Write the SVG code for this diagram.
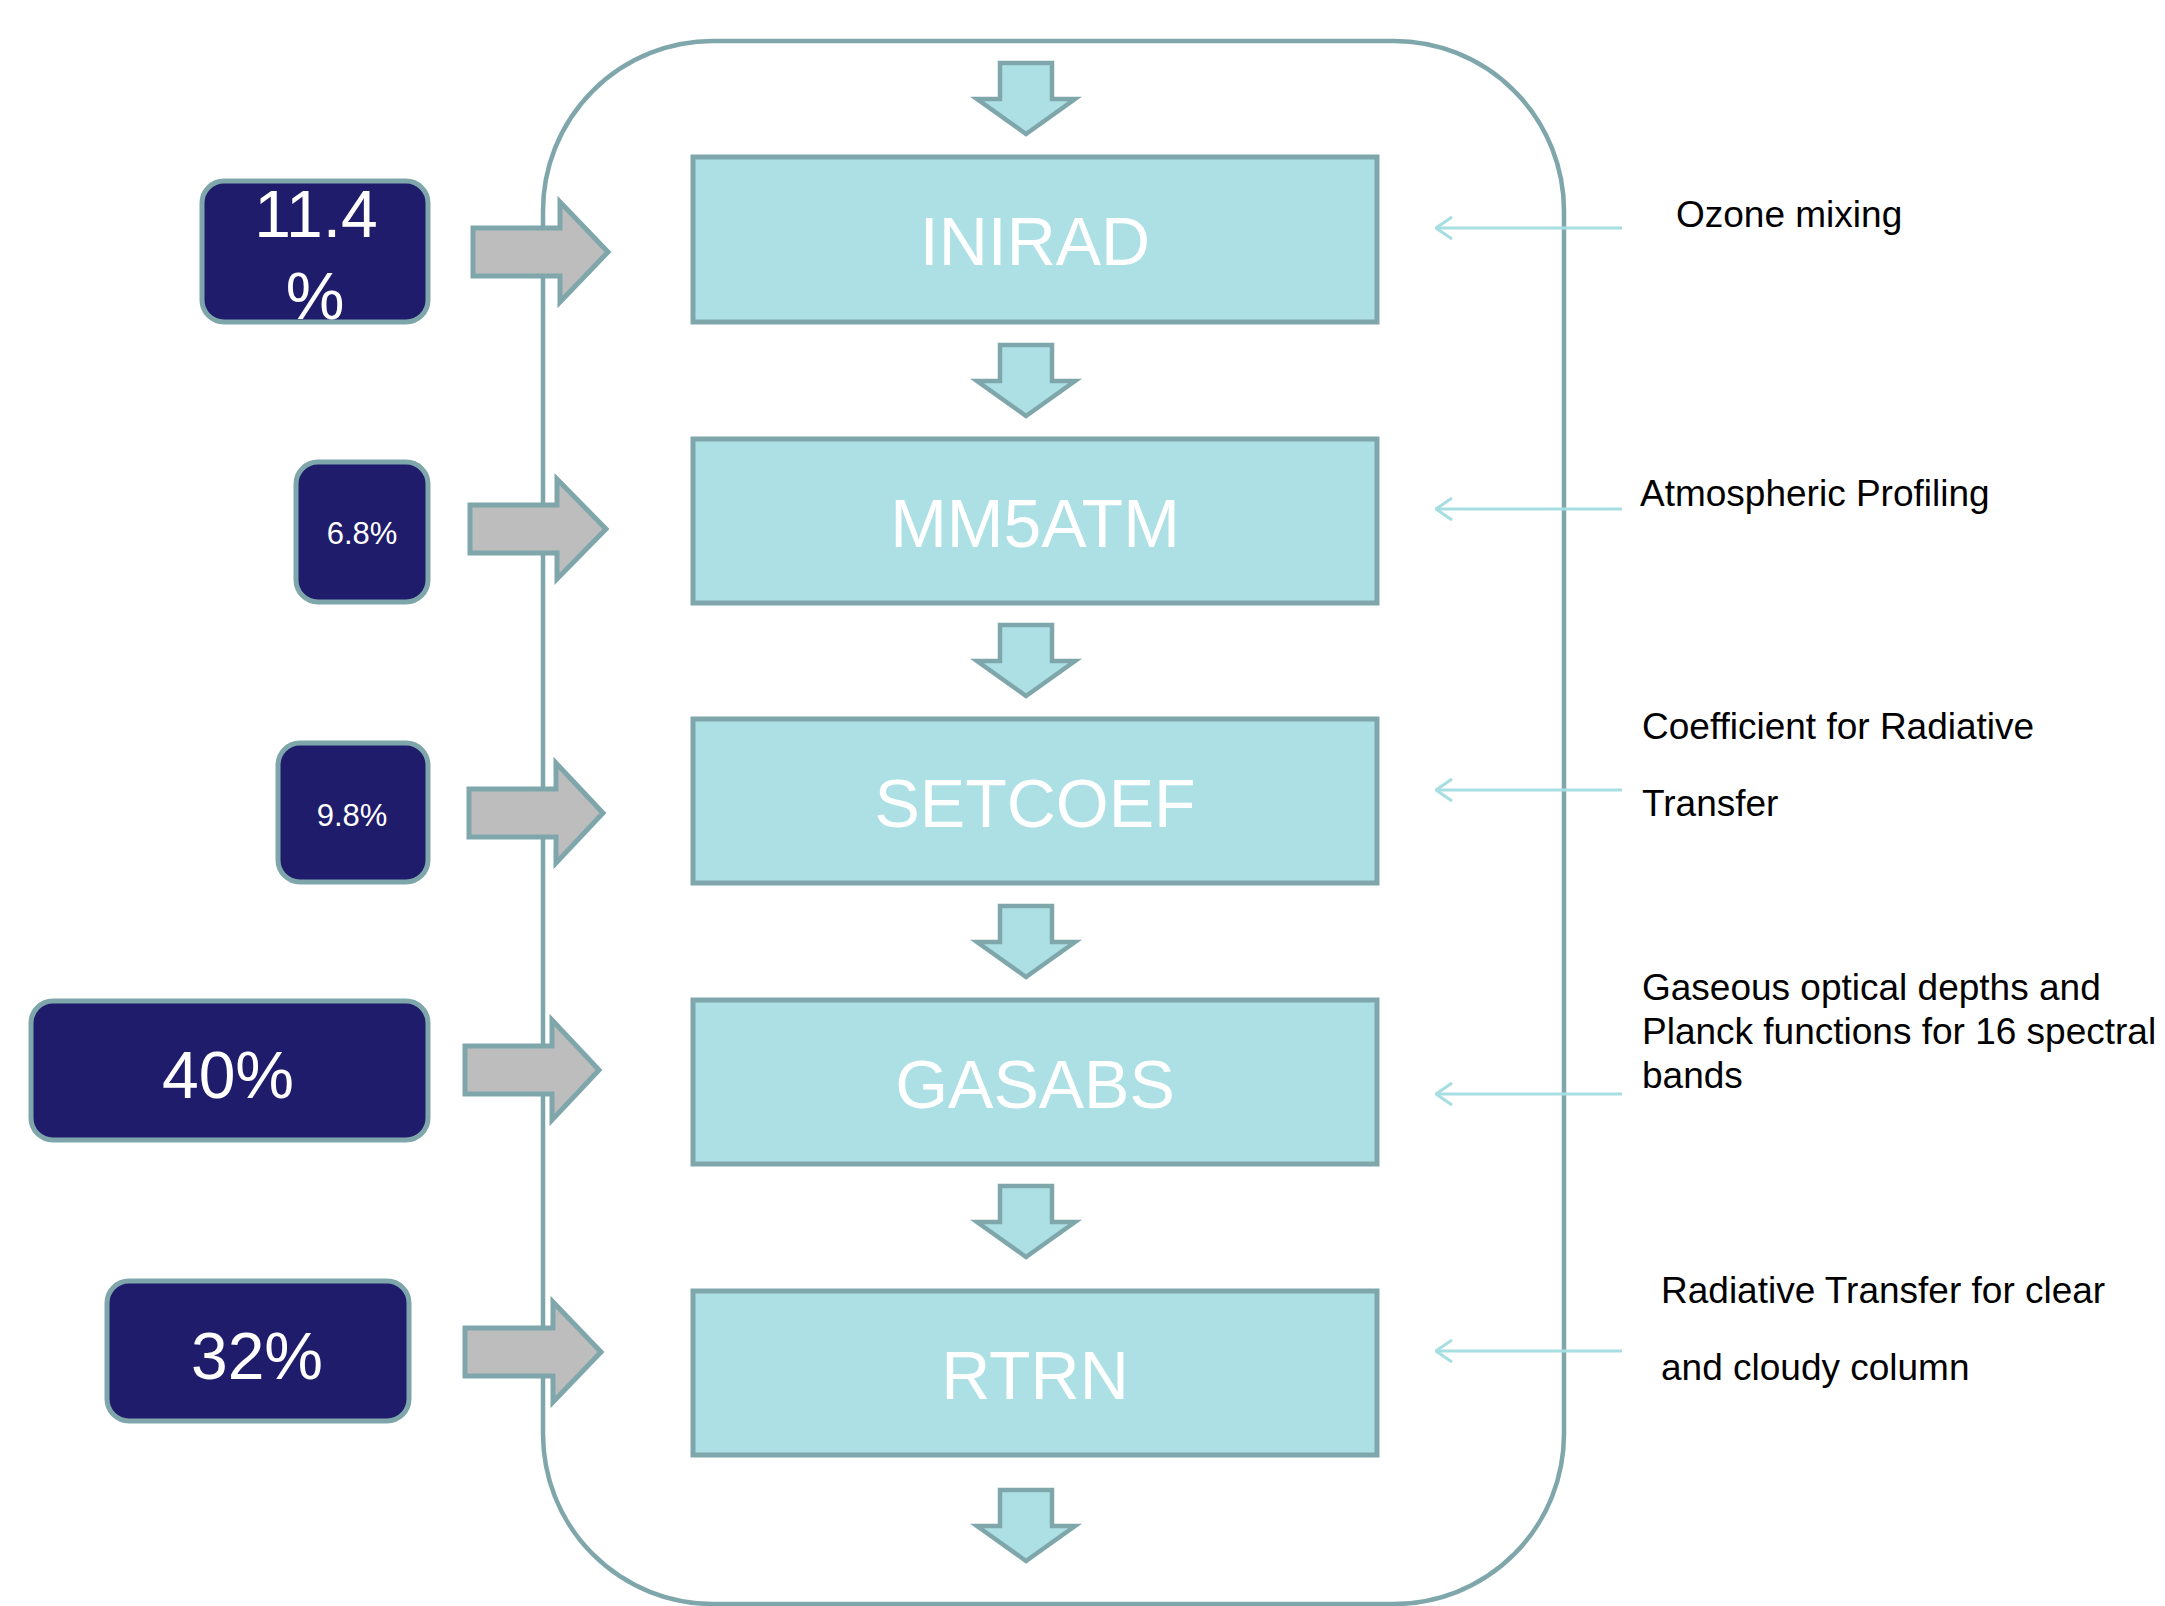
<svg xmlns="http://www.w3.org/2000/svg" width="2165" height="1606" viewBox="0 0 2165 1606">
  <style>
    .frame { fill: none; stroke: #7FA7AB; stroke-width: 4.5; }
    .proc { fill: #ACE0E4; stroke: #7FA7AB; stroke-width: 5; }
    .proc-label { fill: #FFFFFF; font-family: "Liberation Sans", Arial, sans-serif; font-size: 68px; text-anchor: middle; }
    .pct { fill: #1F1C6B; stroke: #7FA7AB; stroke-width: 5; }
    .pct-label { fill: #FFFFFF; font-family: "Liberation Sans", Arial, sans-serif; text-anchor: middle; }
    .big { font-size: 66px; }
    .small { font-size: 31px; }
    .flow { fill: #ACE0E4; stroke: #7FA7AB; stroke-width: 4.5; stroke-linejoin: miter; }
    .feed { fill: #BDBDBD; stroke: #7FA7AB; stroke-width: 5; stroke-linejoin: miter; }
    .note-line { fill: none; stroke: #A6DEE2; stroke-width: 3; }
    .note { fill: #000000; font-family: "Liberation Sans", Arial, sans-serif; font-size: 37px; }
  </style>
  <defs>
    <!-- open chevron; drawn along +x so orient="auto" turns it to face the line's end -->
    <marker id="open-head" viewBox="0 0 18 24" refX="17" refY="12" markerWidth="18" markerHeight="24" markerUnits="userSpaceOnUse" orient="auto">
      <path d="M1,1 L17,12 L1,23" fill="none" stroke="#A6DEE2" stroke-width="3"/>
    </marker>
  </defs>

  <rect width="2165" height="1606" fill="#FFFFFF"/>

  <!-- enclosing rounded frame -->
  <rect id="frame" class="frame" x="543" y="41" width="1021" height="1563" rx="170" ry="170"/>

  <!-- processing steps -->
  <g id="node-inirad">
    <rect class="proc" x="693" y="157" width="684" height="165"/>
    <text class="proc-label" x="1035" y="265">INIRAD</text>
  </g>
  <g id="node-mm5atm">
    <rect class="proc" x="693" y="439" width="684" height="164"/>
    <text class="proc-label" x="1035" y="547">MM5ATM</text>
  </g>
  <g id="node-setcoef">
    <rect class="proc" x="693" y="719" width="684" height="164"/>
    <text class="proc-label" x="1035" y="827">SETCOEF</text>
  </g>
  <g id="node-gasabs">
    <rect class="proc" x="693" y="1000" width="684" height="164"/>
    <text class="proc-label" x="1035" y="1108">GASABS</text>
  </g>
  <g id="node-rtrn">
    <rect class="proc" x="693" y="1291" width="684" height="164"/>
    <text class="proc-label" x="1035" y="1399">RTRN</text>
  </g>

  <!-- share of run time per step -->
  <g id="pct-inirad">
    <rect class="pct" x="202" y="181" width="226" height="141" rx="22"/>
    <text class="pct-label big" x="316" y="237">11.4</text>
    <text class="pct-label big" x="315" y="319">%</text>
  </g>
  <g id="pct-mm5atm">
    <rect class="pct" x="296" y="462" width="132" height="140" rx="22"/>
    <text class="pct-label small" x="362" y="544">6.8%</text>
  </g>
  <g id="pct-setcoef">
    <rect class="pct" x="278" y="743" width="150" height="139" rx="22"/>
    <text class="pct-label small" x="352" y="826">9.8%</text>
  </g>
  <g id="pct-gasabs">
    <rect class="pct" x="31" y="1001" width="397" height="139" rx="22"/>
    <text class="pct-label big" x="228" y="1098">40%</text>
  </g>
  <g id="pct-rtrn">
    <rect class="pct" x="107" y="1281" width="302" height="140" rx="22"/>
    <text class="pct-label big" x="257" y="1379">32%</text>
  </g>

  <!-- step descriptions -->
  <g id="note-inirad">
    <text class="note" x="1676" y="227">Ozone mixing</text>
  </g>
  <g id="note-mm5atm">
    <text class="note" x="1640" y="506">Atmospheric Profiling</text>
  </g>
  <g id="note-setcoef">
    <text class="note" x="1642" y="739">Coefficient for Radiative</text>
    <text class="note" x="1642" y="816">Transfer</text>
  </g>
  <g id="note-gasabs">
    <text class="note" x="1642" y="1000">Gaseous optical depths and</text>
    <text class="note" x="1642" y="1044">Planck functions for 16 spectral</text>
    <text class="note" x="1642" y="1088">bands</text>
  </g>
  <g id="note-rtrn">
    <text class="note" x="1661" y="1303">Radiative Transfer for clear</text>
    <text class="note" x="1661" y="1380">and cloudy column</text>
  </g>

  <g id="connectors">
    <!-- downward flow arrows -->
    <path class="flow" d="M1000,63 H1052 V99 H1075 L1026,134 L977,99 H1000 Z"/>
    <path class="flow" d="M1000,345 H1052 V381 H1075 L1026,416 L977,381 H1000 Z"/>
    <path class="flow" d="M1000,625 H1052 V661 H1075 L1026,696 L977,661 H1000 Z"/>
    <path class="flow" d="M1000,906 H1052 V942 H1075 L1026,977 L977,942 H1000 Z"/>
    <path class="flow" d="M1000,1186 H1052 V1222 H1075 L1026,1257 L977,1222 H1000 Z"/>
    <path class="flow" d="M1000,1490 H1052 V1526 H1075 L1026,1561 L977,1526 H1000 Z"/>

    <!-- grey arrows from percentages into the steps -->
    <path class="feed" d="M473,228 H560 V202 L608,252 L560,302 V276 H473 Z"/>
    <path class="feed" d="M470,505 H557 V479 L606,529 L557,579 V553 H470 Z"/>
    <path class="feed" d="M469,789 H556 V763 L603,813 L556,863 V837 H469 Z"/>
    <path class="feed" d="M465,1046 H552 V1020 L599,1070 L552,1120 V1094 H465 Z"/>
    <path class="feed" d="M465,1328 H553 V1302 L601,1352 L553,1402 V1376 H465 Z"/>

    <!-- thin pointers from descriptions -->
    <line class="note-line" x1="1622" y1="228" x2="1436" y2="228" marker-end="url(#open-head)"/>
    <line class="note-line" x1="1622" y1="509" x2="1436" y2="509" marker-end="url(#open-head)"/>
    <line class="note-line" x1="1622" y1="790" x2="1436" y2="790" marker-end="url(#open-head)"/>
    <line class="note-line" x1="1622" y1="1094" x2="1436" y2="1094" marker-end="url(#open-head)"/>
    <line class="note-line" x1="1622" y1="1351" x2="1436" y2="1351" marker-end="url(#open-head)"/>
  </g>
</svg>
